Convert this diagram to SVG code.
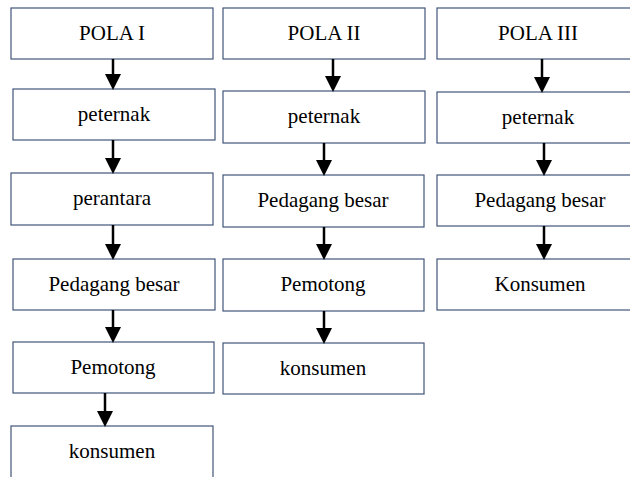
<svg xmlns="http://www.w3.org/2000/svg" width="630" height="477" viewBox="0 0 630 477">
<style>
.box{fill:#fff;stroke:#41557a;stroke-width:1.2}
.lbl{font-family:"Liberation Serif","Times New Roman",serif;font-size:21px;fill:#000;text-anchor:middle}
.arr{stroke:#000;stroke-width:2.5;fill:none;marker-end:url(#ah)}
</style>
<defs>
<marker id="ah" markerUnits="userSpaceOnUse" markerWidth="16" markerHeight="16" refX="12" refY="8" orient="auto" viewBox="0 0 16 16">
<path d="M0,0 L16,8 L0,16 z" fill="#000"/>
</marker>
</defs>
<rect width="630" height="477" fill="#fff"/>
<g id="col1">
<g id="n-pola1"><rect class="box" x="11" y="8" width="202" height="51"/><text class="lbl" x="112" y="40">POLA I</text></g>
<g id="n-peternak1"><rect class="box" x="13" y="89" width="202" height="51"/><text class="lbl" x="114" y="121">peternak</text></g>
<g id="n-perantara1"><rect class="box" x="11" y="173" width="202" height="52"/><text class="lbl" x="112" y="205">perantara</text></g>
<g id="n-pedagang1"><rect class="box" x="13" y="259" width="202" height="51"/><text class="lbl" x="114" y="291">Pedagang besar</text></g>
<g id="n-pemotong1"><rect class="box" x="13" y="342" width="201" height="51"/><text class="lbl" x="113" y="374">Pemotong</text></g>
<g id="n-konsumen1"><rect class="box" x="11" y="426" width="202" height="60"/><text class="lbl" x="112" y="458">konsumen</text></g>
</g>
<g id="col2">
<g id="n-pola2"><rect class="box" x="223" y="8" width="202" height="51"/><text class="lbl" x="324" y="40">POLA II</text></g>
<g id="n-peternak2"><rect class="box" x="223" y="91" width="202" height="52"/><text class="lbl" x="324" y="123">peternak</text></g>
<g id="n-pedagang2"><rect class="box" x="223" y="175" width="201" height="52"/><text class="lbl" x="323" y="207">Pedagang besar</text></g>
<g id="n-pemotong2"><rect class="box" x="223" y="259" width="201" height="52"/><text class="lbl" x="323" y="291">Pemotong</text></g>
<g id="n-konsumen2"><rect class="box" x="223" y="343" width="201" height="51"/><text class="lbl" x="323" y="375">konsumen</text></g>
</g>
<g id="col3">
<g id="n-pola3"><rect class="box" x="437" y="8" width="203" height="51"/><text class="lbl" x="538" y="40">POLA III</text></g>
<g id="n-peternak3"><rect class="box" x="437" y="92" width="203" height="51"/><text class="lbl" x="538" y="124">peternak</text></g>
<g id="n-pedagang3"><rect class="box" x="437" y="175" width="203" height="51"/><text class="lbl" x="540" y="207">Pedagang besar</text></g>
<g id="n-konsumen3"><rect class="box" x="437" y="259" width="203" height="51"/><text class="lbl" x="540" y="291">Konsumen</text></g>
</g>
<g id="connectors">
<line class="arr" x1="113" y1="59" x2="113" y2="86"/>
<line class="arr" x1="113" y1="140" x2="113" y2="170"/>
<line class="arr" x1="113" y1="225" x2="113" y2="256"/>
<line class="arr" x1="113" y1="310" x2="113" y2="339"/>
<line class="arr" x1="105" y1="393" x2="105" y2="423"/>
<line class="arr" x1="333" y1="59" x2="333" y2="88"/>
<line class="arr" x1="324" y1="143" x2="324" y2="172"/>
<line class="arr" x1="324" y1="227" x2="324" y2="256"/>
<line class="arr" x1="324" y1="311" x2="324" y2="340"/>
<line class="arr" x1="542" y1="59" x2="542" y2="89"/>
<line class="arr" x1="544" y1="143" x2="544" y2="172"/>
<line class="arr" x1="544" y1="226" x2="544" y2="256"/>
</g>
</svg>
